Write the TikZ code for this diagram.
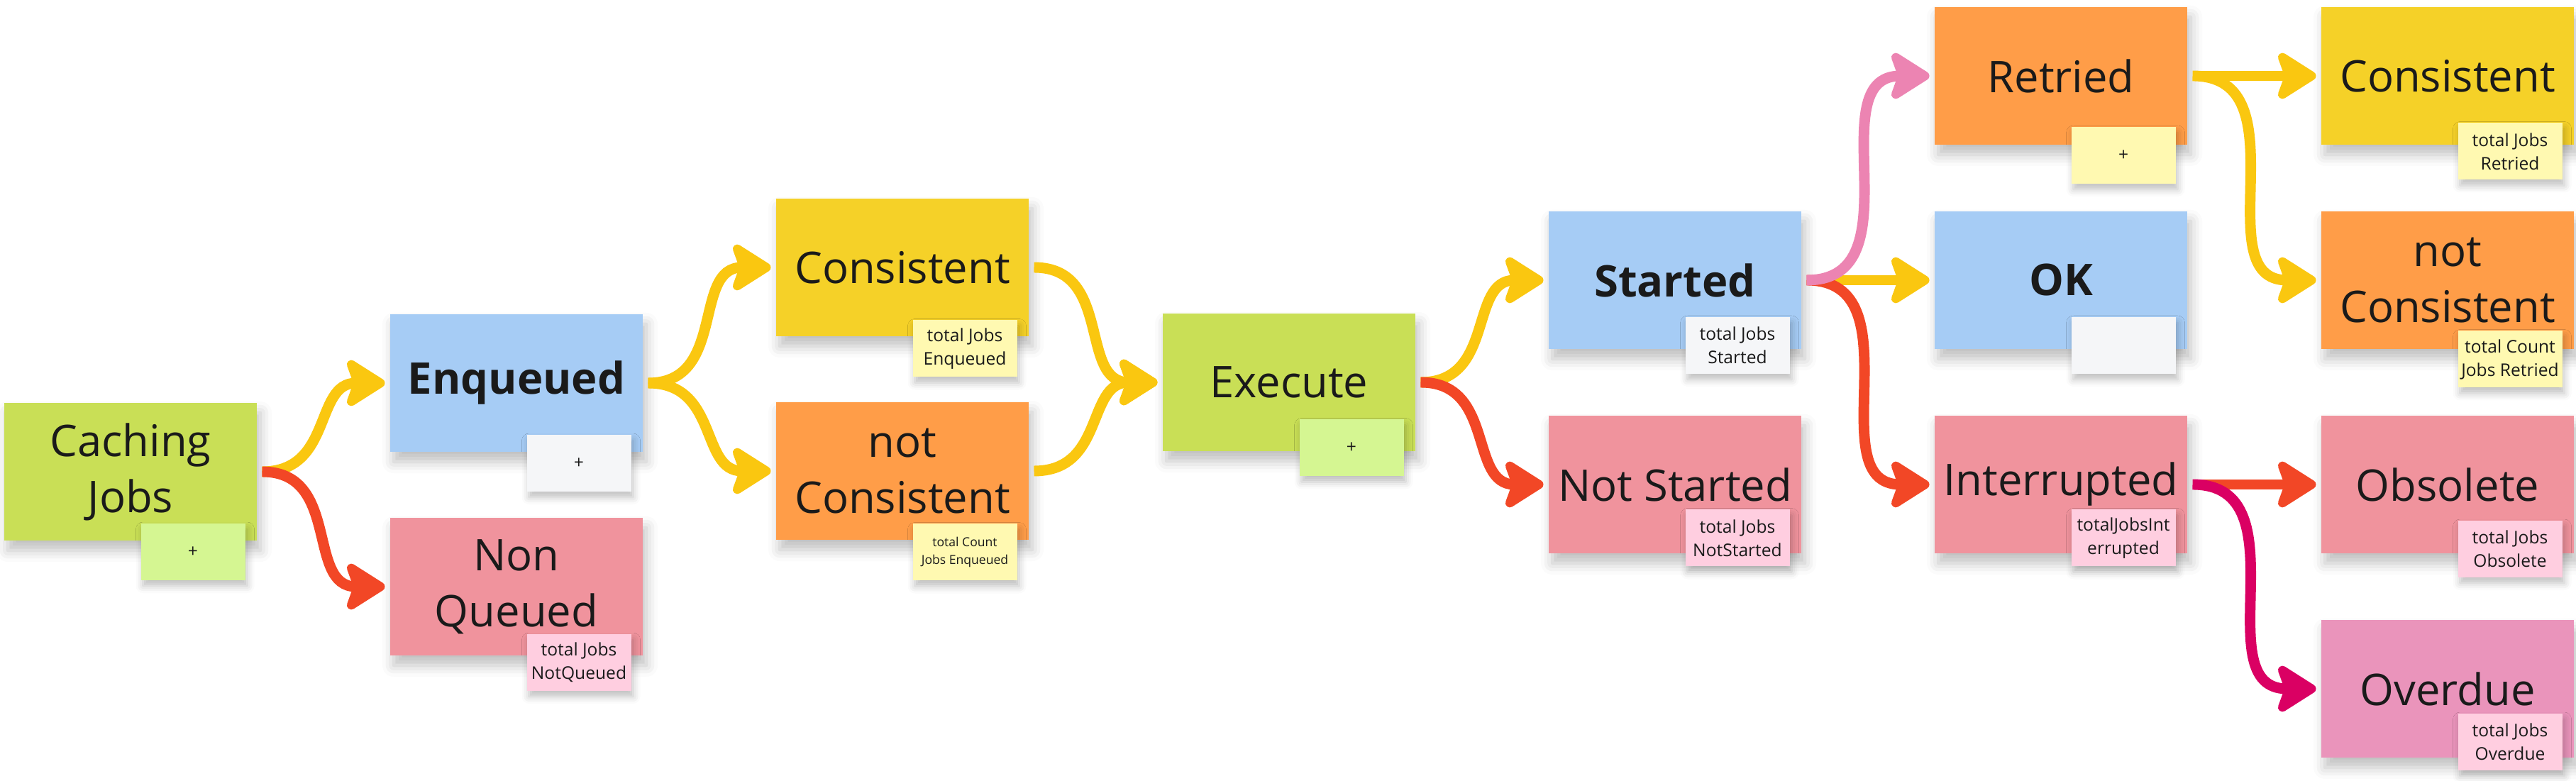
\documentclass[tikz,border=0pt]{standalone}
\usepackage{fontspec}
\setmainfont{Open Sans}
\usetikzlibrary{arrows.meta}
\usetikzlibrary{positioning}
\usetikzlibrary{shadows.blur}

\definecolor{ink}{HTML}{1A1A1A}
\definecolor{stGreen}{HTML}{C9DF56}
\definecolor{stBlue}{HTML}{A6CCF5}
\definecolor{stRed}{HTML}{F0939D}
\definecolor{stYellow}{HTML}{F5D128}
\definecolor{stOrange}{HTML}{FF9D48}
\definecolor{stPink}{HTML}{EA94BB}
\definecolor{tgGreen}{HTML}{D5F692}
\definecolor{tgGray}{HTML}{F5F6F8}
\definecolor{tgPink}{HTML}{FFCEE0}
\definecolor{tgYellow}{HTML}{FFF9B1}
\definecolor{lnYellow}{HTML}{FAC710}
\definecolor{lnRed}{HTML}{F24726}
\definecolor{lnPink}{HTML}{EC84B2}
\definecolor{lnMagenta}{HTML}{DA0063}

\tikzset{
  sticky/.style={rectangle, inner sep=0pt, minimum width=3.56cm, minimum height=1.94cm,
    align=center, text=ink, font=\fontsize{17.5}{22.5}\selectfont,
    blur shadow={shadow xshift=0.5mm, shadow yshift=-1.4mm, shadow blur radius=1.6mm, shadow opacity=25}},
  tally/.style={rectangle, inner sep=0pt, minimum width=1.47cm, minimum height=0.8cm,
    align=center, text=ink, font=\fontsize{7}{9.4}\selectfont,
    blur shadow={shadow xshift=0.3mm, shadow yshift=-0.8mm, shadow blur radius=1mm, shadow opacity=25}},
}

\begin{document}
\begin{tikzpicture}[on grid, line width=4.25pt, >={Stealth[length=6.4mm, width=8mm, inset=1.4mm, round]}]
  \useasboundingbox (0,0) rectangle (36.31,-11.01);

  % main stickies, column by column
  \node[sticky, fill=stGreen] (cache) at (1.84,-6.65) {Caching\\Jobs};
  \node[sticky, fill=stBlue] (enq) [above right=1.25cm and 5.44cm of cache] {\bfseries Enqueued};
  \node[sticky, fill=stRed] (nonq) [below right=1.62cm and 5.44cm of cache] {Non\\Queued};
  \node[sticky, fill=stYellow] (cons) [above right=1.63cm and 5.44cm of enq] {Consistent};
  \node[sticky, fill=stOrange] (ncons) [below right=1.24cm and 5.44cm of enq] {not\\Consistent};
  \node[sticky, fill=stGreen] (exec) [below right=1.62cm and 5.45cm of cons] {Execute};
  \node[sticky, fill=stBlue] (start) [above right=1.44cm and 5.44cm of exec] {\bfseries Started};
  \node[sticky, fill=stRed] (nstart) [below right=1.44cm and 5.44cm of exec] {Not Started};
  \node[sticky, fill=stOrange] (retr) [above right=2.88cm and 5.44cm of start] {Retried};
  \node[sticky, fill=stBlue] (ok) [right=5.44cm of start] {\bfseries OK};
  \node[sticky, fill=stRed] (intr) [right=5.44cm of nstart] {Interrupted};
  \node[sticky, fill=stYellow] (rcons) [right=5.45cm of retr] {Consistent};
  \node[sticky, fill=stOrange] (rncons) [right=5.45cm of ok] {not\\Consistent};
  \node[sticky, fill=stRed] (obs) [right=5.45cm of intr] {Obsolete};
  \node[sticky, fill=stPink] (over) [below=2.88cm of obs] {Overdue};

  % small counters stuck on the stickies
  \node[tally, fill=tgGreen] (cache_t) [below=1.13cm of cache, xshift=8.8mm] {+};
  \node[tally, fill=tgGray] (enq_t) [below=1.13cm of enq, xshift=8.8mm] {+};
  \node[tally, fill=tgPink] (nonq_t) [below=1.07cm of nonq, xshift=8.8mm] {total Jobs\\NotQueued};
  \node[tally, fill=tgYellow] (cons_t) [below=1.145cm of cons, xshift=8.8mm] {total Jobs\\Enqueued};
  \node[tally, fill=tgYellow, font=\fontsize{5}{7}\selectfont] (ncons_t) [below=1.145cm of ncons, xshift=8.8mm] {total Count\\Jobs Enqueued};
  \node[tally, fill=tgGreen] (exec_t) [below=0.925cm of exec, xshift=8.8mm] {+};
  \node[tally, fill=tgGray] (start_t) [below=0.92cm of start, xshift=8.8mm] {total Jobs\\Started};
  \node[tally, fill=tgPink] (nstart_t) [below=0.755cm of nstart, xshift=8.8mm] {total Jobs\\NotStarted};
  \node[tally, fill=tgYellow] (retr_t) [below=1.12cm of retr, xshift=8.8mm] {+};
  \node[tally, fill=tgGray] (ok_t) [below=0.92cm of ok, xshift=8.8mm] {};
  \node[tally, fill=tgPink] (intr_t) [below=0.755cm of intr, xshift=8.8mm] {totalJobsInt\\errupted};
  \node[tally, fill=tgYellow] (rcons_t) [below=1.065cm of rcons, xshift=8.8mm] {total Jobs\\Retried};
  \node[tally, fill=tgYellow] (rncons_t) [below=1.115cm of rncons, xshift=8.8mm] {total Count\\Jobs Retried};
  \node[tally, fill=tgPink] (obs_t) [below=0.91cm of obs, xshift=8.8mm] {total Jobs\\Obsolete};
  \node[tally, fill=tgPink] (over_t) [below=0.75cm of over, xshift=8.8mm] {total Jobs\\Overdue};

  \path[->, lnYellow]
  (cache) edge[out=0, in=180, looseness=1.2] (enq)
  (enq) edge[out=0, in=180, looseness=1.2] (cons)
  (enq) edge[out=0, in=180, looseness=1.2] (ncons)
  (cons) edge[out=0, in=180, looseness=1.2] (exec)
  (ncons) edge[out=0, in=180, looseness=1.2] (exec)
  (exec) edge[out=0, in=180, looseness=1.2] (start)
  (start) edge (ok)
  (retr) edge (rcons)
  (retr) edge[out=0, in=180, looseness=1.2] (rncons);
  \path[->, lnRed]
  (cache) edge[out=0, in=180, looseness=1.2] (nonq)
  (exec) edge[out=0, in=180, looseness=1.2] (nstart)
  (start) edge[out=0, in=180, looseness=1.2] (intr)
  (intr) edge (obs);
  \path[->, lnPink]
  (start) edge[out=0, in=180, looseness=1.2] (retr);
  \path[->, lnMagenta]
  (intr) edge[out=0, in=180, looseness=1.2] (over);
\end{tikzpicture}
\end{document}
